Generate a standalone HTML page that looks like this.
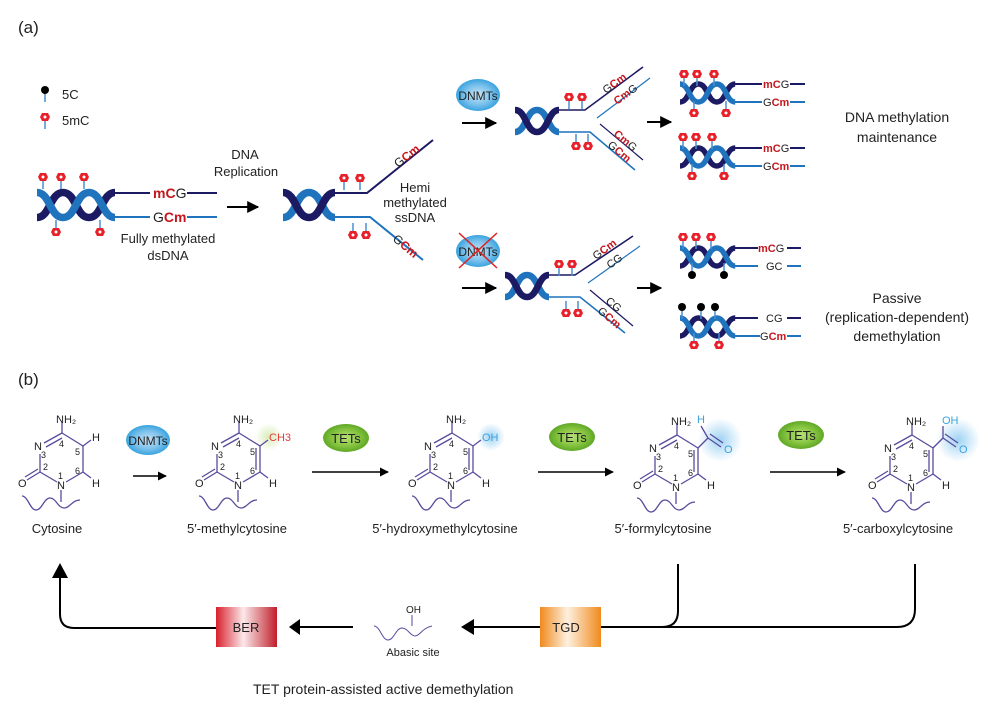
<!DOCTYPE html>
<html><head><meta charset="utf-8"><style>
html,body{margin:0;padding:0;background:#fff;}
svg{display:block;font-family:"Liberation Sans",sans-serif;}
.t{font-size:13px;fill:#222;}
.r{fill:#c4161c;font-weight:bold;}
.b{fill:#222;}
.sm{font-size:9px;fill:#222;}
.at{font-size:11px;fill:#222;}
.bd{stroke:#5a4a9c;stroke-width:1.3;fill:none;}
</style></head><body>
<svg width="1000" height="717" viewBox="0 0 1000 717" xmlns="http://www.w3.org/2000/svg">
<defs>
<g id="h3">
<path d="M0 10 C10 10 10 -10 20 -10 C30 -10 30 10 40 10 C50 10 50 -10 60 -10" stroke="#1c1a63" stroke-width="6" fill="none"/>
<path d="M0 -10 C10 -10 10 10 20 10 C30 10 30 -10 40 -10 C50 -10 50 10 60 10" stroke="#1f74bd" stroke-width="6" fill="none"/>
</g>
<g id="h2">
<path d="M0 10 C10 10 10 -10 20 -10 C30 -10 30 10 40 10" stroke="#1f74bd" stroke-width="6" fill="none"/>
<path d="M0 -10 C10 -10 10 10 20 10 C30 10 30 -10 40 -10" stroke="#1c1a63" stroke-width="6" fill="none"/>
</g>
<g id="pu"><line x1="0" y1="0" x2="0" y2="12" stroke="#4a8fd0" stroke-width="1.5"/><polygon points="-3,-4 3,-4 5,0 3,4 -3,4 -5,0" fill="#e8202a"/><circle r="1.5" fill="#fff"/></g>
<g id="pd"><line x1="0" y1="0" x2="0" y2="-12" stroke="#4a8fd0" stroke-width="1.5"/><polygon points="-3,-4 3,-4 5,0 3,4 -3,4 -5,0" fill="#e8202a"/><circle r="1.5" fill="#fff"/></g>
<g id="ku"><line x1="0" y1="0" x2="0" y2="12" stroke="#4a8fd0" stroke-width="1.5"/><circle r="4" fill="#000"/></g>
<g id="kd"><line x1="0" y1="0" x2="0" y2="-12" stroke="#4a8fd0" stroke-width="1.5"/><circle r="4" fill="#000"/></g>
<g id="ring">
<line class="bd" x1="44" y1="443" x2="62" y2="433"/><line class="bd" x1="46" y1="447" x2="62" y2="438"/>
<line class="bd" x1="62" y1="433" x2="83" y2="446"/>
<line class="bd" x1="83" y1="446" x2="83" y2="472"/>
<line class="bd" x1="83" y1="472" x2="66" y2="482"/>
<line class="bd" x1="57" y1="482" x2="40" y2="472"/>
<line class="bd" x1="40" y1="472" x2="40" y2="454"/>
<line class="bd" x1="40" y1="472" x2="27" y2="480"/><line class="bd" x1="38" y1="469" x2="25" y2="477"/>
<line class="bd" x1="62" y1="433" x2="62" y2="422"/>
<line class="bd" x1="61" y1="490" x2="61" y2="502"/>
<path class="bd" d="M22 496 C28 496 30 510 36 510 C42 510 44 498 50 498 C56 498 58 508 64 508 C70 508 72 500 80 500" stroke-width="1"/>
</g>
<radialGradient id="gb"><stop offset="0" stop-color="#c8e4f6"/><stop offset="0.6" stop-color="#7cc2ec"/><stop offset="1" stop-color="#3aa3df"/></radialGradient>
<radialGradient id="gg"><stop offset="0" stop-color="#b8e07a"/><stop offset="0.6" stop-color="#86c440"/><stop offset="1" stop-color="#5fa826"/></radialGradient>
<radialGradient id="glb"><stop offset="0" stop-color="#9fd3f3"/><stop offset="1" stop-color="#9fd3f3" stop-opacity="0"/></radialGradient>
<radialGradient id="glg"><stop offset="0" stop-color="#d9ecb6"/><stop offset="1" stop-color="#d9ecb6" stop-opacity="0"/></radialGradient>
<linearGradient id="ber"><stop offset="0" stop-color="#d8202c"/><stop offset="0.45" stop-color="#fbe9ea"/><stop offset="1" stop-color="#c01e2a"/></linearGradient>
<linearGradient id="tgd"><stop offset="0" stop-color="#f08a1c"/><stop offset="0.45" stop-color="#fdf0e0"/><stop offset="1" stop-color="#f08a1c"/></linearGradient>
<marker id="ah" viewBox="0 0 10 10" refX="9" refY="5" markerWidth="6" markerHeight="6" orient="auto"><path d="M0 0 L10 5 L0 10z" fill="#000"/></marker>
</defs>

<text x="18" y="33" style="font-size:17px" fill="#222">(a)</text>
<text x="18" y="385" style="font-size:17px" fill="#222">(b)</text>

<!-- legend -->
<use href="#ku" x="45" y="90"/><text class="t" x="62" y="99">5C</text>
<use href="#pu" x="45" y="117"/><text class="t" x="62" y="125">5mC</text>

<g transform="translate(0,60)">
<!-- helix 1 -->
<g transform="translate(37,145) scale(1.3,1.25)"><use href="#h3"/></g>
<line x1="114" y1="133" x2="150" y2="133" stroke="#1c1a63" stroke-width="2"/>
<line x1="114" y1="157" x2="150" y2="157" stroke="#1f74bd" stroke-width="2"/>
<text x="153" y="138" style="font-size:14px"><tspan class="r">mC</tspan><tspan class="b">G</tspan></text>
<text x="153" y="162" style="font-size:14px"><tspan class="b">G</tspan><tspan class="r">Cm</tspan></text>
<line x1="187" y1="133" x2="217" y2="133" stroke="#1c1a63" stroke-width="2"/>
<line x1="187" y1="157" x2="217" y2="157" stroke="#1f74bd" stroke-width="2"/>
<use href="#pu" x="43" y="117"/><use href="#pu" x="61" y="117"/><use href="#pu" x="84" y="117"/>
<use href="#pd" x="56" y="172"/><use href="#pd" x="100" y="172"/>
<text class="t" x="168" y="183" text-anchor="middle">Fully methylated</text>
<text class="t" x="168" y="200" text-anchor="middle">dsDNA</text>
<text class="t" x="245" y="99" text-anchor="middle">DNA</text>
<text class="t" x="246" y="116" text-anchor="middle">Replication</text>
<line x1="227" y1="147" x2="258" y2="147" stroke="#000" stroke-width="2" marker-end="url(#ah)"/>

<!-- helix 2 -->
<g transform="translate(283,145) scale(1.3,1.25)"><use href="#h2"/></g>
<polyline points="335,133 367,133 433,80" fill="none" stroke="#1c1a63" stroke-width="2"/>
<polyline points="335,157 370,157 423,200" fill="none" stroke="#1f74bd" stroke-width="2"/>
<use href="#pu" x="344" y="118"/><use href="#pu" x="360" y="118"/>
<use href="#pd" x="353" y="175"/><use href="#pd" x="366" y="175"/>
<text x="398" y="108" transform="rotate(-38 398 108)" style="font-size:12px"><tspan class="b">G</tspan><tspan class="r">Cm</tspan></text>
<text x="392" y="180" transform="rotate(40 392 180)" style="font-size:12px"><tspan class="b">G</tspan><tspan class="r">Cm</tspan></text>
<text class="t" x="415" y="132" text-anchor="middle">Hemi</text>
<text class="t" x="415" y="147" text-anchor="middle">methylated</text>
<text class="t" x="415" y="162" text-anchor="middle">ssDNA</text>
</g>

<!-- DNMTs top -->
<ellipse cx="478" cy="95" rx="22" ry="16" fill="url(#gb)"/>
<text x="478" y="100" text-anchor="middle" style="font-size:12px" fill="#222">DNMTs</text>
<line x1="462" y1="123" x2="496" y2="123" stroke="#000" stroke-width="2" marker-end="url(#ah)"/>
<!-- DNMTs crossed -->
<ellipse cx="478" cy="251" rx="22" ry="16" fill="url(#gb)"/>
<text x="478" y="256" text-anchor="middle" style="font-size:12px" fill="#222">DNMTs</text>
<line x1="459" y1="233" x2="497" y2="268" stroke="#e02020" stroke-width="1.5"/>
<line x1="497" y1="233" x2="459" y2="268" stroke="#e02020" stroke-width="1.5"/>
<line x1="462" y1="288" x2="496" y2="288" stroke="#000" stroke-width="2" marker-end="url(#ah)"/>

<!-- fork top -->
<g transform="translate(515,121) scale(1.1,1.1)"><use href="#h2"/></g>
<polyline points="559,110 585,110 643,67" fill="none" stroke="#1c1a63" stroke-width="1.6"/>
<line x1="597" y1="118" x2="650" y2="78" stroke="#1f74bd" stroke-width="1.2"/>
<polyline points="559,132 590,132 635,170" fill="none" stroke="#1f74bd" stroke-width="1.6"/>
<line x1="600" y1="124" x2="643" y2="160" stroke="#1c1a63" stroke-width="1.2"/>
<use href="#pu" x="569" y="97"/><use href="#pu" x="582" y="97"/>
<use href="#pd" x="576" y="146"/><use href="#pd" x="588" y="146"/>
<text x="606" y="94" transform="rotate(-36 606 94)" style="font-size:11px"><tspan class="b">G</tspan><tspan class="r">Cm</tspan></text>
<text x="617" y="105" transform="rotate(-36 617 105)" style="font-size:11px"><tspan class="r">Cm</tspan><tspan class="b">G</tspan></text>
<text x="613" y="135" transform="rotate(40 613 135)" style="font-size:11px"><tspan class="r">Cm</tspan><tspan class="b">G</tspan></text>
<text x="607" y="146" transform="rotate(40 607 146)" style="font-size:11px"><tspan class="b">G</tspan><tspan class="r">Cm</tspan></text>
<line x1="647" y1="122" x2="671" y2="122" stroke="#000" stroke-width="2" marker-end="url(#ah)"/>

<!-- fork bottom -->
<g transform="translate(505,286) scale(1.1,1.1)"><use href="#h2"/></g>
<polyline points="549,275 575,275 633,236" fill="none" stroke="#1c1a63" stroke-width="1.6"/>
<line x1="588" y1="283" x2="640" y2="246" stroke="#1f74bd" stroke-width="1.2"/>
<polyline points="549,297 580,297 625,333" fill="none" stroke="#1f74bd" stroke-width="1.6"/>
<line x1="590" y1="290" x2="633" y2="326" stroke="#1c1a63" stroke-width="1.2"/>
<use href="#pu" x="559" y="264"/><use href="#pu" x="572" y="264"/>
<use href="#pd" x="566" y="313"/><use href="#pd" x="578" y="313"/>
<text x="596" y="260" transform="rotate(-36 596 260)" style="font-size:11px"><tspan class="b">G</tspan><tspan class="r">Cm</tspan></text>
<text x="610" y="269" transform="rotate(-36 610 269)" style="font-size:11px" class="b">CG</text>
<text x="605" y="302" transform="rotate(40 605 302)" style="font-size:11px" class="b">CG</text>
<text x="597" y="312" transform="rotate(40 597 312)" style="font-size:11px"><tspan class="b">G</tspan><tspan class="r">Cm</tspan></text>
<line x1="637" y1="288" x2="661" y2="288" stroke="#000" stroke-width="2" marker-end="url(#ah)"/>

<!-- right helices -->
<g transform="translate(680,93) scale(0.92,0.9)"><use href="#h3"/></g>
<line x1="735" y1="84" x2="762" y2="84" stroke="#1c1a63" stroke-width="2"/><line x1="735" y1="102" x2="762" y2="102" stroke="#1f74bd" stroke-width="2"/>
<text x="763" y="88" style="font-size:11px"><tspan class="r">mC</tspan><tspan class="b">G</tspan></text>
<text x="763" y="106" style="font-size:11px"><tspan class="b">G</tspan><tspan class="r">Cm</tspan></text>
<line x1="790" y1="84" x2="805" y2="84" stroke="#1c1a63" stroke-width="2"/><line x1="790" y1="102" x2="805" y2="102" stroke="#1f74bd" stroke-width="2"/>
<use href="#pu" x="684" y="74"/><use href="#pu" x="697" y="74"/><use href="#pu" x="714" y="74"/>
<use href="#pd" x="694" y="113"/><use href="#pd" x="726" y="113"/>

<g transform="translate(680,157) scale(0.92,0.9)"><use href="#h3"/></g>
<line x1="735" y1="148" x2="762" y2="148" stroke="#1c1a63" stroke-width="2"/><line x1="735" y1="166" x2="762" y2="166" stroke="#1f74bd" stroke-width="2"/>
<text x="763" y="152" style="font-size:11px"><tspan class="r">mC</tspan><tspan class="b">G</tspan></text>
<text x="763" y="170" style="font-size:11px"><tspan class="b">G</tspan><tspan class="r">Cm</tspan></text>
<line x1="790" y1="148" x2="805" y2="148" stroke="#1c1a63" stroke-width="2"/><line x1="790" y1="166" x2="805" y2="166" stroke="#1f74bd" stroke-width="2"/>
<use href="#pu" x="683" y="137"/><use href="#pu" x="696" y="137"/><use href="#pu" x="712" y="137"/>
<use href="#pd" x="692" y="176"/><use href="#pd" x="724" y="176"/>

<g transform="translate(680,257) scale(0.92,0.9)"><use href="#h3"/></g>
<line x1="735" y1="248" x2="758" y2="248" stroke="#1c1a63" stroke-width="2"/><line x1="735" y1="266" x2="758" y2="266" stroke="#1f74bd" stroke-width="2"/>
<text x="758" y="252" style="font-size:11px"><tspan class="r">mC</tspan><tspan class="b">G</tspan></text>
<text x="766" y="270" style="font-size:11px" class="b">GC</text>
<line x1="787" y1="248" x2="801" y2="248" stroke="#1c1a63" stroke-width="2"/><line x1="787" y1="266" x2="801" y2="266" stroke="#1f74bd" stroke-width="2"/>
<use href="#pu" x="683" y="237"/><use href="#pu" x="696" y="237"/><use href="#pu" x="711" y="237"/>
<use href="#kd" x="692" y="275"/><use href="#kd" x="724" y="275"/>

<g transform="translate(680,327) scale(0.92,0.9)"><use href="#h3"/></g>
<line x1="735" y1="318" x2="758" y2="318" stroke="#1c1a63" stroke-width="2"/><line x1="735" y1="336" x2="760" y2="336" stroke="#1f74bd" stroke-width="2"/>
<text x="766" y="322" style="font-size:11px" class="b">CG</text>
<text x="760" y="340" style="font-size:11px"><tspan class="b">G</tspan><tspan class="r">Cm</tspan></text>
<line x1="787" y1="318" x2="801" y2="318" stroke="#1c1a63" stroke-width="2"/><line x1="787" y1="336" x2="801" y2="336" stroke="#1f74bd" stroke-width="2"/>
<use href="#ku" x="682" y="307"/><use href="#ku" x="701" y="307"/><use href="#ku" x="715" y="307"/>
<use href="#pd" x="694" y="345"/><use href="#pd" x="719" y="345"/>

<text x="897" y="122" text-anchor="middle" style="font-size:14px" fill="#222">DNA methylation</text>
<text x="897" y="142" text-anchor="middle" style="font-size:14px" fill="#222">maintenance</text>
<text x="897" y="303" text-anchor="middle" style="font-size:14px" fill="#222">Passive</text>
<text x="897" y="322" text-anchor="middle" style="font-size:14px" fill="#222">(replication-dependent)</text>
<text x="897" y="341" text-anchor="middle" style="font-size:14px" fill="#222">demethylation</text>

<!-- (b) molecules -->
<circle cx="269" cy="437" r="14" fill="url(#glg)"/>
<circle cx="491" cy="437" r="14" fill="url(#glb)"/>
<circle cx="720" cy="440" r="22" fill="url(#glb)"/>
<circle cx="958" cy="440" r="22" fill="url(#glb)"/>

<g>
<use href="#ring"/>
<line class="bd" x1="83" y1="446" x2="91" y2="440"/><line class="bd" x1="83" y1="472" x2="91" y2="478"/>
<text class="at" x="56" y="423">NH₂</text><text class="at" x="34" y="450">N</text><text class="at" x="57" y="489">N</text><text class="at" x="18" y="487">O</text>
<text class="at" x="92" y="441">H</text><text class="at" x="92" y="487">H</text>
<text class="sm" x="41" y="458">3</text><text class="sm" x="59" y="447">4</text><text class="sm" x="75" y="455">5</text><text class="sm" x="75" y="474">6</text><text class="sm" x="58" y="479">1</text><text class="sm" x="43" y="470">2</text>
<text class="t" x="57" y="533" text-anchor="middle">Cytosine</text>
</g>
<g transform="translate(177,0)">
<use href="#ring"/>
<line class="bd" x1="79" y1="448" x2="79" y2="470"/>
<line class="bd" x1="83" y1="446" x2="91" y2="440"/><line class="bd" x1="83" y1="472" x2="91" y2="478"/>
<text class="at" x="56" y="423">NH₂</text><text class="at" x="34" y="450">N</text><text class="at" x="57" y="489">N</text><text class="at" x="18" y="487">O</text>
<text class="at" x="92" y="441" style="fill:#e53a3a">CH3</text><text class="at" x="92" y="487">H</text>
<text class="sm" x="41" y="458">3</text><text class="sm" x="59" y="447">4</text><text class="sm" x="73" y="455">5</text><text class="sm" x="73" y="474">6</text><text class="sm" x="58" y="479">1</text><text class="sm" x="43" y="470">2</text>
<text class="t" x="60" y="533" text-anchor="middle">5′-methylcytosine</text>
</g>
<g transform="translate(390,0)">
<use href="#ring"/>
<line class="bd" x1="79" y1="448" x2="79" y2="470"/>
<line class="bd" x1="83" y1="446" x2="91" y2="440"/><line class="bd" x1="83" y1="472" x2="91" y2="478"/>
<text class="at" x="56" y="423">NH₂</text><text class="at" x="34" y="450">N</text><text class="at" x="57" y="489">N</text><text class="at" x="18" y="487">O</text>
<text class="at" x="92" y="441" style="fill:#3aa3df">OH</text><text class="at" x="92" y="487">H</text>
<text class="sm" x="41" y="458">3</text><text class="sm" x="59" y="447">4</text><text class="sm" x="73" y="455">5</text><text class="sm" x="73" y="474">6</text><text class="sm" x="58" y="479">1</text><text class="sm" x="43" y="470">2</text>
<text class="t" x="55" y="533" text-anchor="middle">5′-hydroxymethylcytosine</text>
</g>
<g transform="translate(615,2)">
<use href="#ring"/>
<line class="bd" x1="79" y1="448" x2="79" y2="470"/>
<line class="bd" x1="83" y1="446" x2="93" y2="436"/><line class="bd" x1="93" y1="436" x2="86" y2="424"/>
<line class="bd" x1="93" y1="436" x2="106" y2="445"/><line class="bd" x1="95" y1="432" x2="108" y2="441"/>
<line class="bd" x1="83" y1="472" x2="91" y2="478"/>
<text class="at" x="56" y="423">NH₂</text><text class="at" x="34" y="450">N</text><text class="at" x="57" y="489">N</text><text class="at" x="18" y="487">O</text>
<text class="at" x="82" y="421" style="fill:#3aa3df">H</text><text class="at" x="109" y="451" style="fill:#3aa3df">O</text><text class="at" x="92" y="487">H</text>
<text class="sm" x="41" y="458">3</text><text class="sm" x="59" y="447">4</text><text class="sm" x="73" y="455">5</text><text class="sm" x="73" y="474">6</text><text class="sm" x="58" y="479">1</text><text class="sm" x="43" y="470">2</text>
<text class="t" x="48" y="531" text-anchor="middle">5′-formylcytosine</text>
</g>
<g transform="translate(850,2)">
<use href="#ring"/>
<line class="bd" x1="79" y1="448" x2="79" y2="470"/>
<line class="bd" x1="83" y1="446" x2="93" y2="436"/><line class="bd" x1="93" y1="436" x2="93" y2="424"/>
<line class="bd" x1="93" y1="436" x2="106" y2="445"/><line class="bd" x1="95" y1="432" x2="108" y2="441"/>
<line class="bd" x1="83" y1="472" x2="91" y2="478"/>
<text class="at" x="56" y="423">NH₂</text><text class="at" x="34" y="450">N</text><text class="at" x="57" y="489">N</text><text class="at" x="18" y="487">O</text>
<text class="at" x="92" y="422" style="fill:#3aa3df">OH</text><text class="at" x="109" y="451" style="fill:#3aa3df">O</text><text class="at" x="92" y="487">H</text>
<text class="sm" x="41" y="458">3</text><text class="sm" x="59" y="447">4</text><text class="sm" x="73" y="455">5</text><text class="sm" x="73" y="474">6</text><text class="sm" x="58" y="479">1</text><text class="sm" x="43" y="470">2</text>
<text class="t" x="48" y="531" text-anchor="middle">5′-carboxylcytosine</text>
</g>

<!-- enzyme arrows (b) -->
<ellipse cx="148" cy="440" rx="22" ry="15" fill="url(#gb)"/><text x="148" y="445" text-anchor="middle" style="font-size:12px" fill="#222">DNMTs</text>
<line x1="133" y1="476" x2="166" y2="476" stroke="#000" stroke-width="1.5" marker-end="url(#ah)"/>
<ellipse cx="346" cy="438" rx="23" ry="14" fill="url(#gg)"/><text x="346" y="443" text-anchor="middle" style="font-size:13px" fill="#222">TETs</text>
<line x1="312" y1="472" x2="388" y2="472" stroke="#000" stroke-width="1.5" marker-end="url(#ah)"/>
<ellipse cx="572" cy="437" rx="23" ry="14" fill="url(#gg)"/><text x="572" y="442" text-anchor="middle" style="font-size:13px" fill="#222">TETs</text>
<line x1="538" y1="472" x2="613" y2="472" stroke="#000" stroke-width="1.5" marker-end="url(#ah)"/>
<ellipse cx="801" cy="435" rx="23" ry="14" fill="url(#gg)"/><text x="801" y="440" text-anchor="middle" style="font-size:13px" fill="#222">TETs</text>
<line x1="770" y1="472" x2="845" y2="472" stroke="#000" stroke-width="1.5" marker-end="url(#ah)"/>

<!-- bottom pathway -->
<path d="M216 628 L74 628 Q60 628 60 614 L60 576" fill="none" stroke="#000" stroke-width="2"/>
<polygon points="52,578 68,578 60,563" fill="#000"/>
<rect x="216" y="607" width="61" height="40" fill="url(#ber)"/>
<text x="246" y="632" text-anchor="middle" style="font-size:13px" fill="#222">BER</text>
<line x1="298" y1="627" x2="353" y2="627" stroke="#000" stroke-width="2"/>
<polygon points="300,619 300,635 289,627" fill="#000"/>
<path d="M374 626 C380 626 382 640 388 640 C394 640 396 628 402 628 C408 628 410 636 415 636 C420 636 422 628 432 626" fill="none" stroke="#5a4a9c" stroke-width="1"/>
<line x1="412" y1="626" x2="412" y2="615" stroke="#5a4a9c" stroke-width="1"/>
<text x="406" y="613" style="font-size:10px" fill="#222">OH</text>
<text x="413" y="656" text-anchor="middle" style="font-size:11px" fill="#222">Abasic site</text>
<line x1="470" y1="627" x2="540" y2="627" stroke="#000" stroke-width="2"/>
<polygon points="474,619 474,635 461,627" fill="#000"/>
<rect x="540" y="607" width="61" height="40" fill="url(#tgd)"/>
<text x="566" y="632" text-anchor="middle" style="font-size:13px" fill="#222">TGD</text>
<path d="M601 627 L897 627 Q915 627 915 609 L915 564" fill="none" stroke="#000" stroke-width="2"/>
<path d="M662 627 Q678 627 678 611 L678 564" fill="none" stroke="#000" stroke-width="2"/>
<text x="253" y="694" style="font-size:14px" fill="#222">TET protein-assisted active demethylation</text>
</svg>
</body></html>
